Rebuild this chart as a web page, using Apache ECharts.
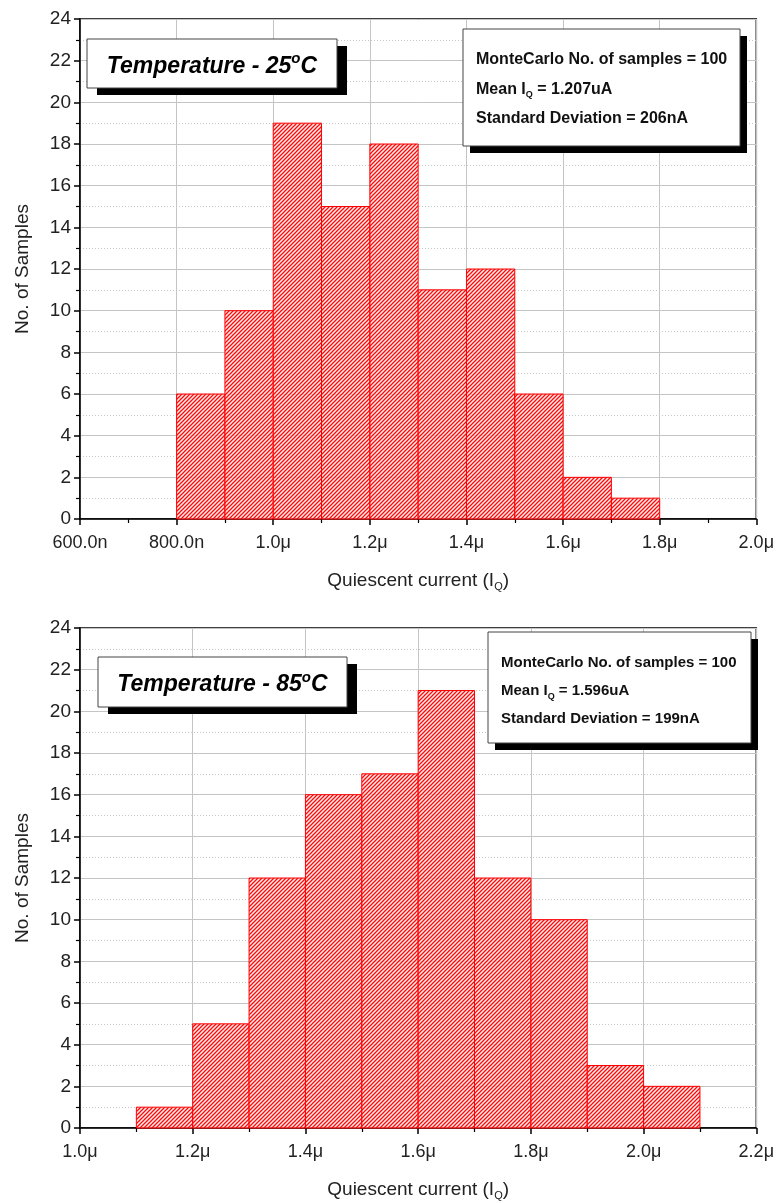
<!DOCTYPE html>
<html>
<head>
<meta charset="utf-8">
<title>Quiescent current histograms</title>
<script src="https://cdn.jsdelivr.net/npm/echarts@6/dist/echarts.min.js"></script>
<style>
  body { margin: 0; background: #fff; }
  #chart { width: 777px; height: 1203px; }
</style>
</head>
<body>
<div id="chart"></div>
<script>
// histogram bins (start of each bin, in uA) and counts
var binWidth = 0.1;
var binStart25 = [0.8, 0.9, 1.0, 1.1, 1.2, 1.3, 1.4, 1.5, 1.6, 1.7];
var counts25 = [6, 10, 19, 15, 18, 11, 12, 6, 2, 1];
var binStart85 = [1.1, 1.2, 1.3, 1.4, 1.5, 1.6, 1.7, 1.8, 1.9, 2.0];
var counts85 = [1, 5, 12, 16, 17, 21, 12, 10, 3, 2];

// axis ticks and their labels
var xTicks25 = [0.6, 0.8, 1.0, 1.2, 1.4, 1.6, 1.8, 2.0];
var xLabels25 = ['600.0n', '800.0n', '1.0\u03bc', '1.2\u03bc', '1.4\u03bc', '1.6\u03bc', '1.8\u03bc', '2.0\u03bc'];
var xTicks85 = [1.0, 1.2, 1.4, 1.6, 1.8, 2.0, 2.2];
var xLabels85 = ['1.0\u03bc', '1.2\u03bc', '1.4\u03bc', '1.6\u03bc', '1.8\u03bc', '2.0\u03bc', '2.2\u03bc'];

// annotation text
var title25 = 'Temperature - 25{sup|o}C';
var title85 = 'Temperature - 85{sup|o}C';
var notes25 = ['MonteCarlo No. of samples = 100', 'Mean I{sub|Q} = 1.207uA', 'Standard Deviation = 206nA'];
var notes85 = ['MonteCarlo No. of samples = 100', 'Mean I{sub|Q} = 1.596uA', 'Standard Deviation = 199nA'];

var FONT = '"Liberation Sans", Arial, sans-serif';

// red "////" hatch fill
var hatchCanvas = document.createElement('canvas');
hatchCanvas.width = 4;
hatchCanvas.height = 4;
var hctx = hatchCanvas.getContext('2d');
hctx.fillStyle = 'rgba(255,230,230,0.7)';
hctx.fillRect(0, 0, 4, 4);
hctx.strokeStyle = '#ff0a0a';
hctx.lineWidth = 1.25;
hctx.beginPath();
hctx.moveTo(0, 4); hctx.lineTo(4, 0);
hctx.moveTo(-1, 1); hctx.lineTo(1, -1);
hctx.moveTo(3, 5); hctx.lineTo(5, 3);
hctx.stroke();
var hatch = { image: hatchCanvas, repeat: 'repeat' };

var chart = echarts.init(document.getElementById('chart'));

function labelOf(ticks, labels) {
    return function (v) {
        for (var i = 0; i < ticks.length; i++) {
            if (Math.abs(ticks[i] - v) < 1e-6) return labels[i];
        }
        return '';
    };
}

function xAxis(idx, ticks, labels) {
    return {
        type: 'value', gridIndex: idx,
        min: ticks[0], max: ticks[ticks.length - 1], interval: 0.2,
        name: 'Quiescent current (I{sub|Q})',
        nameLocation: 'middle', nameGap: 50,
        nameTextStyle: {
            fontSize: 19, fontFamily: FONT, color: '#222',
            rich: { sub: { fontSize: 11, fontFamily: FONT, color: '#222', padding: [12, 0, 0, 0] } }
        },
        axisLine: { show: true, lineStyle: { color: '#000', width: 1.5 } },
        axisTick: { show: true, inside: false, length: 6, lineStyle: { color: '#000', width: 1.5 } },
        minorTick: { show: true, splitNumber: 2, length: 4, lineStyle: { color: '#000', width: 1.2 } },
        axisLabel: { fontSize: 18, fontFamily: FONT, color: '#222', margin: 15, formatter: labelOf(ticks, labels) },
        splitLine: { show: true, lineStyle: { color: '#c4c4c4', width: 1 } },
        minorSplitLine: { show: false }
    };
}

function yAxis(idx) {
    return {
        type: 'value', gridIndex: idx,
        min: 0, max: 24, interval: 2,
        name: 'No. of Samples',
        nameLocation: 'middle', nameGap: 48,
        nameTextStyle: { fontSize: 19, fontFamily: FONT, color: '#222' },
        axisLine: { show: true, lineStyle: { color: '#000', width: 1.5 } },
        axisTick: { show: true, inside: false, length: 6, lineStyle: { color: '#000', width: 1.5 } },
        minorTick: { show: true, splitNumber: 2, length: 4, lineStyle: { color: '#000', width: 1.2 } },
        axisLabel: { fontSize: 19, fontFamily: FONT, color: '#222', margin: 9 },
        splitLine: { show: true, lineStyle: { color: '#c4c4c4', width: 1 } },
        minorSplitLine: { show: true, lineStyle: { color: '#c8c8c8', type: [1, 2], width: 1 } }
    };
}

function histSeries(idx, starts, counts) {
    var data = starts.map(function (s, i) { return [s, s + binWidth, counts[i]]; });
    return {
        type: 'custom', xAxisIndex: idx, yAxisIndex: idx,
        data: data,
        encode: { x: [0, 1], y: 2 },
        renderItem: function (params, api) {
            var p0 = api.coord([api.value(0), api.value(2)]);
            var p1 = api.coord([api.value(1), 0]);
            return {
                type: 'rect',
                shape: { x: p0[0], y: p0[1], width: p1[0] - p0[0], height: p1[1] - p0[1] },
                style: { fill: hatch, stroke: '#ff0000', lineWidth: 1 }
            };
        }
    };
}

function titleBox(x, y, w, h, text) {
    return {
        type: 'group', x: x, y: y,
        children: [
            { type: 'rect', z: 100, shape: { x: 10, y: 7, width: w, height: h }, style: { fill: '#000' } },
            { type: 'rect', z: 101, shape: { x: 0, y: 0, width: w, height: h }, style: { fill: '#fff', stroke: '#444', lineWidth: 1 } },
            {
                type: 'text', z: 102, x: w / 2, y: h / 2 + 3,
                style: {
                    text: text, font: 'italic bold 23px ' + FONT, fill: '#000',
                    align: 'center', verticalAlign: 'middle',
                    rich: { sup: { font: 'italic bold 15px ' + FONT, fill: '#000', padding: [0, 0, 15, 0] } }
                }
            }
        ]
    };
}

function noteBox(x, y, w, h, lines, gap, size) {
    var children = [
        { type: 'rect', z: 100, shape: { x: 7, y: 7, width: w, height: h }, style: { fill: '#000' } },
        { type: 'rect', z: 101, shape: { x: 0, y: 0, width: w, height: h }, style: { fill: '#fff', stroke: '#444', lineWidth: 1 } }
    ];
    lines.forEach(function (t, i) {
        children.push({
            type: 'text', z: 102, x: 13, y: 31 + i * gap,
            style: {
                text: t, font: 'bold ' + size + 'px ' + FONT, fill: '#111',
                align: 'left', verticalAlign: 'middle',
                rich: { sub: { font: 'bold 9px ' + FONT, fill: '#111', padding: [11, 0, 0, 0] } }
            }
        });
    });
    return { type: 'group', x: x, y: y, children: children };
}

chart.setOption({
    animation: false,
    backgroundColor: '#fff',
    textStyle: { fontFamily: FONT },
    grid: [
        { left: 80, top: 19, width: 677, height: 500, show: true, borderColor: '#000', borderWidth: 1.5, backgroundColor: 'transparent' },
        { left: 80, top: 628, width: 677, height: 500, show: true, borderColor: '#000', borderWidth: 1.5, backgroundColor: 'transparent' }
    ],
    xAxis: [xAxis(0, xTicks25, xLabels25), xAxis(1, xTicks85, xLabels85)],
    yAxis: [yAxis(0), yAxis(1)],
    series: [histSeries(0, binStart25, counts25), histSeries(1, binStart85, counts85)],
    graphic: [
        titleBox(87, 39, 250, 49, title25),
        noteBox(463, 29, 277, 117, notes25, 29.5, 16),
        titleBox(98, 657, 249, 50, title85),
        noteBox(488, 632, 263, 111, notes85, 28, 15)
    ]
});
</script>
</body>
</html>
